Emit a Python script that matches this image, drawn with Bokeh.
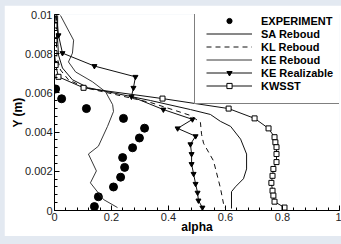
from bokeh.plotting import figure
from bokeh.models import (Range1d, FixedTicker, Legend, LegendItem,
                          GlobalInlineStyleSheet)
from bokeh.embed import file_html
from bokeh.resources import INLINE

# ---------------- data ----------------
x_ticks = [0, 0.2, 0.4, 0.6, 0.8, 1.0]
x_tick_labels = ["0", "0.2", "0.4", "0.6", "0.8", "1"]
y_ticks = [0, 0.002, 0.004, 0.006, 0.008, 0.01]
y_tick_labels = ["0", "0.002", "0.004", "0.006", "0.008", "0.01"]

exp_alpha = [0.004, 0.025, 0.112, 0.242, 0.316, 0.298, 0.274, 0.239, 0.246,
             0.232, 0.207, 0.154, 0.140]
exp_y = [0.0062, 0.0057, 0.0052, 0.0047, 0.0042, 0.0037, 0.0032, 0.0027,
         0.0022, 0.0017, 0.0012, 0.0007, 0.0002]

sa_alpha = [0.011, 0.011, 0.014, 0.028, 0.063, 0.119, 0.337, 0.477, 0.547,
            0.582, 0.618, 0.653, 0.674, 0.674, 0.663, 0.635, 0.621, 0.621]
sa_y = [0.00995, 0.00869, 0.00793, 0.00727, 0.00667, 0.00626, 0.00561,
        0.00515, 0.0049, 0.00455, 0.00429, 0.00364, 0.00288, 0.00212,
        0.00162, 0.00121, 0.00096, 0.0001]

kl_alpha = [0.007, 0.007, 0.007, 0.021, 0.049, 0.109, 0.337, 0.477, 0.512,
            0.516, 0.523, 0.558, 0.582, 0.593, 0.600]
kl_y = [0.00995, 0.00869, 0.00793, 0.00717, 0.00667, 0.00626, 0.00551,
        0.00485, 0.0045, 0.00389, 0.00343, 0.00253, 0.00116, 0.00035, 0.0001]

ke_alpha = [0.021, 0.067, 0.063, 0.049, 0.074, 0.133, 0.179, 0.204, 0.207,
            0.186, 0.154, 0.119, 0.147, 0.126, 0.172, 0.221]
ke_y = [0.00995, 0.00869, 0.00803, 0.00758, 0.00707, 0.00657, 0.00606,
        0.0054, 0.00505, 0.00429, 0.00328, 0.00288, 0.00202, 0.00141,
        0.00056, 0.00015]

ker_alpha = [0.007, 0.014, 0.028, 0.140, 0.284, 0.277, 0.270, 0.382, 0.484,
             0.432, 0.495, 0.477, 0.481, 0.481, 0.488, 0.495, 0.502, 0.505,
             0.519]
ker_y = [0.00995, 0.00894, 0.00803, 0.00737, 0.00682, 0.00626, 0.00581,
         0.00515, 0.00465, 0.00419, 0.00379, 0.00338, 0.00288, 0.00237,
         0.00187, 0.00136, 0.00091, 0.00051, 0.00015]

kw_alpha = [0.004, 0.0, 0.0, 0.0, 0.004, 0.014, 0.102, 0.379, 0.611, 0.702,
            0.751, 0.772, 0.775, 0.779, 0.779, 0.779, 0.768, 0.765, 0.761,
            0.765, 0.768, 0.772, 0.807]
kw_y = [0.00995, 0.00944, 0.00869, 0.00803, 0.00742, 0.00682, 0.00626,
        0.00571, 0.0052, 0.0047, 0.00419, 0.00374, 0.00348, 0.00323,
        0.00288, 0.00247, 0.00212, 0.00177, 0.00141, 0.00101, 0.00076,
        0.00045, 0.00015]

# ---------------- figure ----------------
FONT = "Liberation Sans"
p = figure(width=337, height=231, output_backend="svg", toolbar_location=None,
           x_range=Range1d(0, 1), y_range=Range1d(0, 0.01),
           min_border_left=50, min_border_right=2, min_border_top=9,
           min_border_bottom=20, margin=(5, 0, 0, 4))
p.stylesheets = [GlobalInlineStyleSheet(css="body { background-color: #e3e9f1; }")]
p.background_fill_color = "white"
p.border_fill_color = "white"
p.outline_line_color = None
p.xgrid.visible = False
p.ygrid.visible = False

for ax in (p.xaxis[0], p.yaxis[0]):
    ax.axis_line_color = "black"
    ax.axis_line_width = 1
    ax.major_tick_in = 5
    ax.major_tick_out = 0
    ax.minor_tick_in = 3
    ax.minor_tick_out = 0
    ax.major_tick_line_color = "black"
    ax.minor_tick_line_color = "black"
    ax.major_label_text_font = FONT
    ax.major_label_text_font_size = "11px"
    ax.major_label_text_color = "#222222"
    ax.axis_label_text_font = FONT
    ax.axis_label_text_font_size = "12px"
    ax.axis_label_text_font_style = "bold"
    ax.axis_label_text_color = "black"
    ax.major_label_standoff = 2

p.xaxis[0].axis_label_standoff = -4
p.yaxis[0].axis_label_standoff = -3

p.xaxis.ticker = FixedTicker(ticks=x_ticks,
                             minor_ticks=[i * 0.04 for i in range(26)])
p.yaxis.ticker = FixedTicker(ticks=y_ticks,
                             minor_ticks=[i * 0.0004 for i in range(26)])
p.xaxis.major_label_overrides = dict(zip(x_ticks, x_tick_labels))
p.yaxis.major_label_overrides = dict(zip(y_ticks, y_tick_labels))
p.xaxis.axis_label = "alpha"
p.yaxis.axis_label = "Y (m)"

r_exp = p.scatter(exp_alpha, exp_y, marker="circle", size=8,
                  fill_color="black", line_color="black")
r_sa = p.line(sa_alpha, sa_y, line_color="#111111", line_width=1)
r_kl = p.line(kl_alpha, kl_y, line_color="#111111", line_width=1,
              line_dash="5 4")
r_ke = p.line(ke_alpha, ke_y, line_color="#222222", line_width=0.9)
r_ker = p.line(ker_alpha, ker_y, line_color="#111111", line_width=1)
r_ker_m = p.scatter(ker_alpha[1:], ker_y[1:], marker="inverted_triangle",
                    size=5, fill_color="black", line_color="black")
r_kw = p.line(kw_alpha, kw_y, line_color="#111111", line_width=1)
r_kw_m = p.scatter(kw_alpha[1:], kw_y[1:], marker="square", size=5,
                   fill_color="white", line_color="black", line_width=1)

legend = Legend(items=[
    LegendItem(label="EXPERIMENT", renderers=[r_exp]),
    LegendItem(label="SA Reboud", renderers=[r_sa]),
    LegendItem(label="KL Reboud", renderers=[r_kl]),
    LegendItem(label="KE Reboud", renderers=[r_ke]),
    LegendItem(label="KE Realizable", renderers=[r_ker, r_ker_m]),
    LegendItem(label="KWSST", renderers=[r_kw, r_kw_m]),
], location=(140, 106))
legend.label_text_font = FONT
legend.label_text_font_size = "11px"
legend.label_text_font_style = "bold"
legend.label_text_color = "black"
legend.glyph_width = 46
legend.glyph_height = 13
legend.label_height = 13
legend.label_standoff = 9
legend.spacing = 0
legend.padding = 11
legend.margin = 0
legend.border_line_color = "black"
legend.border_line_width = 1
legend.background_fill_color = "white"
legend.background_fill_alpha = 1
p.add_layout(legend, "center")

open("out.html", "w").write(file_html(p, INLINE))
